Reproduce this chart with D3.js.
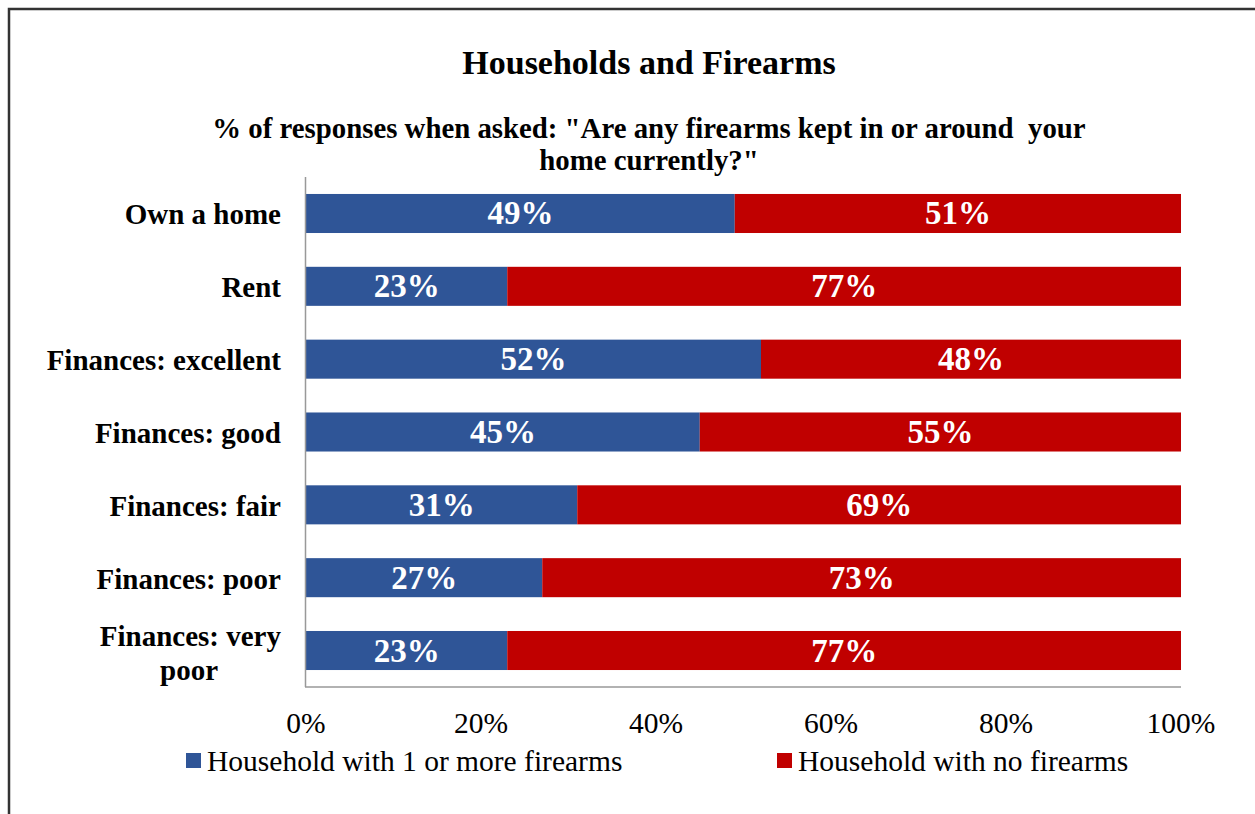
<!DOCTYPE html>
<html lang="en">
<head>
<meta charset="UTF-8" />
<title>Households and Firearms</title>
<style>
  body { margin: 0; background: #fff; }
  svg text { font-family: "Liberation Serif", "Times New Roman", serif; }
</style>
</head>
<body>
<div class="chart"></div>
<script src="https://d3js.org/d3.v7.min.js"></script>
<script>
// data
const categories = ['Own a home', 'Rent', 'Finances: excellent', 'Finances: good',
                    'Finances: fair', 'Finances: poor', 'Finances: very poor'];
const withFirearms = [49, 23, 52, 45, 31, 27, 23];
const noFirearms = [51, 77, 48, 55, 69, 73, 77];
const seriesNames = ['Household with 1 or more firearms', 'Household with no firearms'];
const tickValues = [0, 20, 40, 60, 80, 100];

const width = 1255, height = 814;
const colors = ['#2F5597', '#C00000'];

const svg = d3.select('.chart').append('svg')
  .attr('width', width).attr('height', height);

// outer frame
svg.append('rect')
  .attr('x', 9).attr('y', 9)
  .attr('width', width + 20).attr('height', height + 20)
  .attr('fill', 'none').attr('stroke', '#333').attr('stroke-width', 2.5);

// titles
svg.append('text').attr('x', 649).attr('y', 74)
  .attr('text-anchor', 'middle').attr('font-size', 34).attr('font-weight', 'bold')
  .text('Households and Firearms');
svg.append('text').attr('x', 649).attr('y', 138)
  .attr('text-anchor', 'middle').attr('font-size', 28.8).attr('font-weight', 'bold')
  .style('white-space', 'pre')
  .text('% of responses when asked: "Are any firearms kept in or around  your');
svg.append('text').attr('x', 649).attr('y', 170)
  .attr('text-anchor', 'middle').attr('font-size', 28.8).attr('font-weight', 'bold')
  .text('home currently?"');

const plotL = 306, plotR = 1181, plotT = 177, plotB = 687;

const x = d3.scaleLinear().domain([0, 100]).range([plotL, plotR]);
const y = d3.scaleBand().domain(categories).range([plotT, plotB])
  .paddingInner(0.464).paddingOuter(0.233);

// stacked bars
const rows = categories.map((c, i) => ({ cat: c, vals: [withFirearms[i], noFirearms[i]] }));
const segs = [];
rows.forEach(r => {
  let acc = 0;
  r.vals.forEach((v, k) => {
    segs.push({ cat: r.cat, k: k, x0: acc, x1: acc + v, v: v });
    acc += v;
  });
});

svg.append('g').selectAll('rect')
  .data(segs).join('rect')
  .attr('x', d => x(d.x0))
  .attr('y', d => y(d.cat))
  .attr('width', d => x(d.x1) - x(d.x0))
  .attr('height', y.bandwidth())
  .attr('fill', d => colors[d.k]);

svg.append('g').selectAll('text')
  .data(segs).join('text')
  .attr('x', d => x((d.x0 + d.x1) / 2))
  .attr('y', d => y(d.cat) + y.bandwidth() / 2 + 11)
  .attr('text-anchor', 'middle')
  .attr('font-size', 33).attr('font-weight', 'bold').attr('fill', '#fff')
  .text(d => d.v + '%');

// axes lines
svg.append('line').attr('x1', plotL - 0.5).attr('x2', plotL - 0.5)
  .attr('y1', plotT).attr('y2', plotB)
  .attr('stroke', '#999').attr('stroke-width', 1.5);
svg.append('line').attr('x1', plotL - 1).attr('x2', plotR)
  .attr('y1', plotB).attr('y2', plotB)
  .attr('stroke', '#999').attr('stroke-width', 1.5);

// category labels
svg.append('g').selectAll('text')
  .data(categories).join('text')
  .attr('text-anchor', 'end')
  .attr('font-size', 29).attr('font-weight', 'bold')
  .each(function (d) {
    const t = d3.select(this);
    const cy = y(d) + y.bandwidth() / 2;
    if (d === 'Finances: very poor') {
      t.append('tspan').attr('x', 281).attr('y', cy - 5).text('Finances: very');
      t.append('tspan').attr('x', 218).attr('y', cy + 29).text('poor');
    } else {
      t.attr('x', 281).attr('y', cy + 11).text(d);
    }
  });

// x tick labels
svg.append('g').selectAll('text')
  .data(tickValues).join('text')
  .attr('x', d => x(d))
  .attr('y', 733)
  .attr('text-anchor', 'middle')
  .attr('font-size', 29.5)
  .text(d => d + '%');

// legend
const legendX = [186, 777];
const lg = svg.append('g').selectAll('g')
  .data(seriesNames).join('g')
  .attr('transform', (d, i) => `translate(${legendX[i]},753)`);
lg.append('rect').attr('width', 15).attr('height', 15)
  .attr('fill', (d, i) => colors[i]);
lg.append('text').attr('x', 21).attr('y', 18)
  .attr('font-size', 29.5)
  .text(d => d);
</script>
</body>
</html>
